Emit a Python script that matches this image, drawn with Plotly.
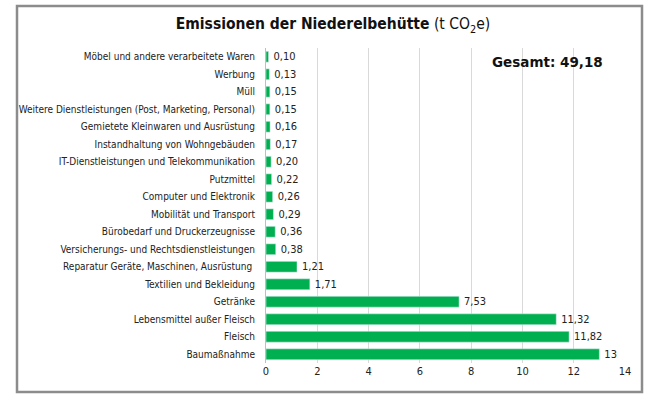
import plotly.graph_objects as go

categories = [
    "Möbel und andere verarbeitete Waren",
    "Werbung",
    "Müll",
    "Weitere Dienstleistungen (Post, Marketing, Personal)",
    "Gemietete Kleinwaren und Ausrüstung",
    "Instandhaltung von Wohngebäuden",
    "IT-Dienstleistungen und Telekommunikation",
    "Putzmittel",
    "Computer und Elektronik",
    "Mobilität und Transport",
    "Bürobedarf und Druckerzeugnisse",
    "Versicherungs- und Rechtsdienstleistungen",
    "Reparatur Geräte, Maschinen, Ausrüstung ",
    "Textilien und Bekleidung",
    "Getränke",
    "Lebensmittel außer Fleisch",
    "Fleisch",
    "Baumaßnahme",
]
values = [0.10, 0.13, 0.15, 0.15, 0.16, 0.17, 0.20, 0.22, 0.26, 0.29, 0.36, 0.38,
          1.21, 1.71, 7.53, 11.32, 11.82, 13]
value_labels = ["0,10", "0,13", "0,15", "0,15", "0,16", "0,17", "0,20", "0,22", "0,26",
                "0,29", "0,36", "0,38", "1,21", "1,71", "7,53", "11,32", "11,82", "13"]
x_ticks = [0, 2, 4, 6, 8, 10, 12, 14]
total_label = "Gesamt: 49,18"

W, H = 660, 396
L, R, T, B = 266, 625, 48, 363

fig = go.Figure(go.Bar(
    y=categories, x=values, orientation="h",
    marker_color="#00B050", width=0.62,
    text=["\u2009" + t for t in value_labels], textposition="outside", cliponaxis=False,
    constraintext="none",
    textfont=dict(family="DejaVu Sans Condensed, DejaVu Sans", size=11, color="#222222"),
))

def px_x(p):
    return (p - L) / (R - L)

def px_y(p):
    return (B - p) / (B - T)

fig.update_layout(
    width=W, height=H,
    margin=dict(l=L, r=W - R, t=T, b=H - B, autoexpand=False),
    paper_bgcolor="white", plot_bgcolor="white",
    font=dict(family="DejaVu Sans Condensed, DejaVu Sans", size=10, color="#222222"),
    showlegend=False,
    xaxis=dict(range=[0, 14], tickvals=x_ticks, ticktext=[str(t) for t in x_ticks],
               showgrid=True, gridcolor="#D9D9D9", gridwidth=1, zeroline=False,
               showline=False, tickfont=dict(size=11), ticks="", automargin=False),
    yaxis=dict(autorange="reversed", showline=True, linecolor="#BFBFBF", linewidth=1,
               showgrid=False, ticks="", ticklabelstandoff=8, tickfont=dict(size=10),
               automargin=False),
    title=dict(text="<b>Emissionen der Niederelbehütte</b> (t CO<sub>2</sub>e)",
               x=333 / W, xanchor="center", xref="container", y=1 - 24 / H, yanchor="middle",
               yref="container",
               font=dict(family="DejaVu Sans Condensed, DejaVu Sans", size=15.5, color="#111111")),
    shapes=[dict(type="rect", xref="paper", yref="paper",
                 x0=px_x(17), x1=px_x(642), y0=px_y(392), y1=px_y(6),
                 line=dict(color="#8C8C8C", width=2.5), fillcolor="rgba(0,0,0,0)")],
    annotations=[dict(text="<b>" + total_label + "</b>", xref="paper", yref="paper",
                      x=px_x(605), y=px_y(62), xanchor="right", yanchor="middle",
                      showarrow=False, font=dict(family="DejaVu Sans", size=13.5, color="#111111"))],
)

fig.write_html("out.html", config={"displayModeBar": False},
               post_script="document.body.style.margin='0';")
